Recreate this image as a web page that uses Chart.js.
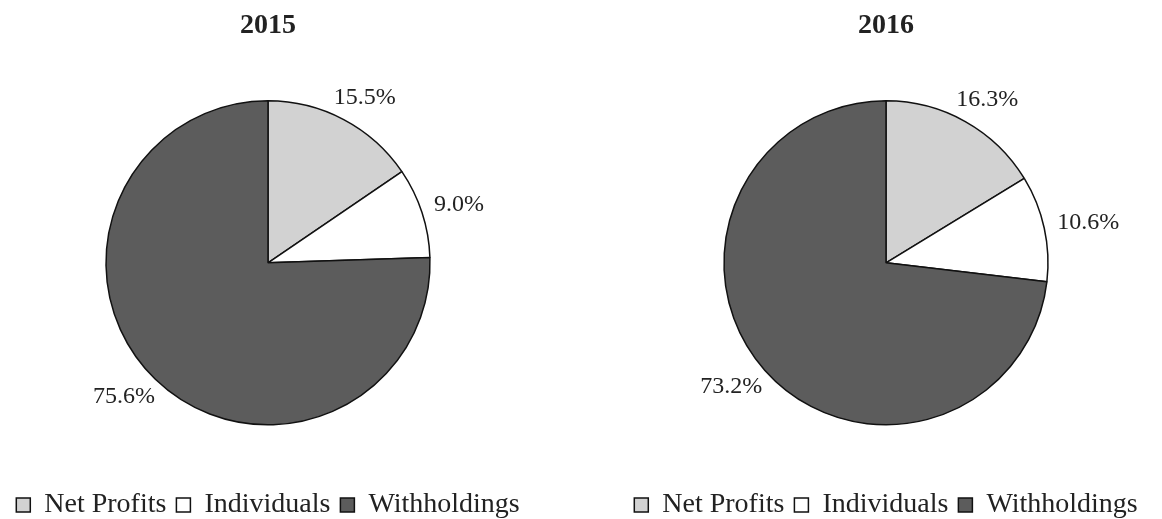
<!DOCTYPE html>
<html>
<head>
<meta charset="utf-8">
<script src="https://cdn.jsdelivr.net/npm/chart.js@4"></script>
<style>
  html, body { margin: 0; padding: 0; background: #fff; }
  body { width: 1162px; height: 519px; position: relative; overflow: hidden; }
  .box { position: absolute; top: 0; height: 519px; }
</style>
</head>
<body>
<div class="box" style="left:0;width:536px"><canvas id="pie2015"></canvas></div>
<div class="box" style="left:610px;width:552px"><canvas id="pie2016"></canvas></div>
<script>
const categories = ['Net Profits', 'Individuals', 'Withholdings'];
const years = ['2015', '2016'];
const share2015 = [15.5, 9.0, 75.6];
const share2016 = [16.3, 10.6, 73.2];
const sliceColors = ['#d2d2d2', '#ffffff', '#5c5c5c'];

const serif = "'Liberation Serif', 'Times New Roman', serif";

// percent labels just outside each slice
const outsideLabels = {
  id: 'outsideLabels',
  afterDatasetsDraw(chart) {
    const ctx = chart.ctx;
    const meta = chart.getDatasetMeta(0);
    const values = chart.data.datasets[0].data;
    ctx.save();
    ctx.font = '24px ' + serif;
    ctx.fillStyle = '#222';
    ctx.textAlign = 'center';
    ctx.textBaseline = 'middle';
    meta.data.forEach((arc, i) => {
      const p = arc.getProps(['x', 'y', 'startAngle', 'endAngle', 'outerRadius'], true);
      const mid = (p.startAngle + p.endAngle) / 2;
      const txt = values[i].toFixed(1) + '%';
      const w = ctx.measureText(txt).width;
      const r = p.outerRadius + 14;
      const x = p.x + Math.cos(mid) * r + Math.cos(mid) * w / 2;
      const y = p.y + Math.sin(mid) * r + Math.sin(mid) * 11;
      ctx.fillText(txt, x, y);
    });
    ctx.restore();
  }
};

const makePie = (id, year, values) => {
  new Chart(document.getElementById(id), {
    type: 'pie',
    data: {
      labels: categories,
      datasets: [{
        data: values,
        backgroundColor: sliceColors,
        borderColor: '#111',
        borderWidth: 1.5,
        radius: 162
      }]
    },
    options: {
      responsive: true,
      maintainAspectRatio: false,
      animation: false,
      layout: { padding: { bottom: -10 } },
      plugins: {
        title: {
          display: true,
          text: year,
          color: '#222',
          font: { family: serif, size: 28, weight: 'bold' },
          padding: { top: 9, bottom: 2 }
        },
        legend: {
          position: 'bottom',
          labels: {
            color: '#222',
            font: { family: serif, size: 28 },
            boxWidth: 14,
            boxHeight: 14,
            padding: 10
          }
        },
        tooltip: { enabled: false }
      }
    },
    plugins: [outsideLabels]
  });
};

makePie('pie2015', years[0], share2015);
makePie('pie2016', years[1], share2016);
</script>
</body>
</html>
